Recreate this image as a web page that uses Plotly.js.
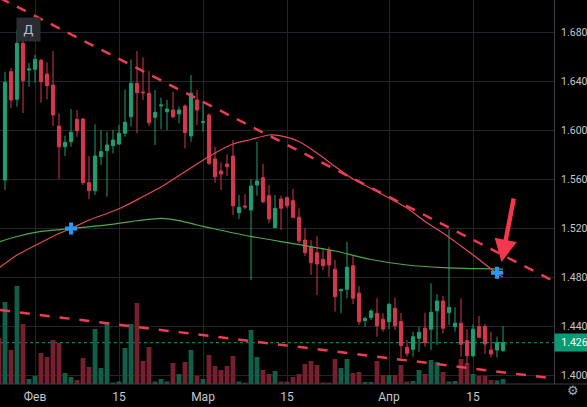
<!DOCTYPE html>
<html><head><meta charset="utf-8">
<script src="https://cdn.plot.ly/plotly-3.0.1.min.js"></script>
<style>html,body{margin:0;padding:0;background:#000;overflow:hidden}#chart{width:587px;height:407px}</style>
</head><body><div id="chart"></div>
<script>
function dayList(start, n){
  const out = []; const t0 = new Date(start + 'T00:00:00Z').getTime();
  for (let i = 0; i < n; i++) out.push(new Date(t0 + i*86400000).toISOString().slice(0,10));
  return out;
}
// daily candles 27 Jan .. 20 Apr 2023
const dates = dayList('2023-01-27', 84);
const open = [1.5593,1.6478,1.6253,1.6710,1.6492,1.6498,1.6571,1.6459,1.6369,1.6034,
1.5865,1.5906,1.6089,1.6092,1.5571,1.5506,1.5784,1.5833,1.5874,1.5887,
1.5975,1.6110,1.6383,1.6312,1.6302,1.6106,1.6198,1.6151,1.6165,1.6133,
1.6198,1.5953,1.6247,1.6063,1.6124,1.5765,1.5667,1.5724,1.5789,1.5326,
1.5381,1.5348,1.5552,1.5612,1.5465,1.5204,1.5438,1.5449,1.5424,1.5289,
1.5103,1.5048,1.4999,1.4945,1.5016,1.4864,1.4689,1.4700,1.4893,1.4668,
1.4444,1.4468,1.4504,1.4455,1.4436,1.4545,1.4437,1.4226,1.4210,1.4300,
1.4382,1.4374,1.4525,1.4605,1.4509,1.4395,1.4423,1.4280,1.4158,1.4395,
1.4395,1.4204,1.4204,1.4199];
const high = [1.6478,1.6508,1.6819,1.6819,1.6549,1.6615,1.6585,1.6555,1.6647,1.6138,
1.5955,1.6173,1.6165,1.6100,1.5789,1.6048,1.6002,1.5988,1.6002,1.6043,
1.6334,1.6579,1.6647,1.6596,1.6484,1.6329,1.6266,1.6247,1.6315,1.6192,
1.6210,1.6451,1.6329,1.6233,1.6138,1.5865,1.5738,1.5803,1.5920,1.5471,
1.5479,1.5599,1.5906,1.5724,1.5552,1.5471,1.5465,1.5457,1.5520,1.5362,
1.5199,1.5103,1.5136,1.5035,1.5048,1.4940,1.4703,1.5089,1.4981,1.4727,
1.4476,1.4537,1.4627,1.4504,1.4586,1.4632,1.4507,1.4286,1.4354,1.4395,
1.4509,1.4749,1.4662,1.4646,1.5190,1.4553,1.4627,1.4374,1.4414,1.4482,
1.4417,1.4354,1.4313,1.4400];
const low = [1.5512,1.6182,1.6192,1.6141,1.6356,1.6388,1.6225,1.6253,1.6034,1.5601,
1.5789,1.5865,1.5947,1.5552,1.5436,1.5471,1.5716,1.5457,1.5811,1.5879,
1.5947,1.6029,1.5975,1.6247,1.6034,1.5879,1.6008,1.6002,1.6097,1.6057,
1.5852,1.5906,1.6043,1.5988,1.5716,1.5571,1.5512,1.5626,1.5307,1.5275,
1.5354,1.4776,1.5465,1.5403,1.5240,1.5201,1.5185,1.5362,1.5281,1.5076,
1.4972,1.4817,1.4654,1.4858,1.4803,1.4517,1.4504,1.4627,1.4580,1.4409,
1.4395,1.4450,1.4313,1.4354,1.4376,1.4368,1.4137,1.4150,1.4150,1.4190,
1.4231,1.4204,1.4245,1.4341,1.4409,1.4354,1.4150,1.4082,1.4145,1.4300,
1.4172,1.4145,1.4145,1.4190];
const close = [1.6391,1.6247,1.6710,1.6405,1.6500,1.6579,1.6396,1.6364,1.6124,1.5865,
1.5901,1.5983,1.5996,1.5571,1.5506,1.5789,1.5825,1.5879,1.5920,1.5975,
1.6065,1.6383,1.6307,1.6306,1.6061,1.6146,1.6206,1.6173,1.6110,1.6165,
1.5980,1.6302,1.6165,1.6070,1.5730,1.5620,1.5642,1.5702,1.5383,1.5370,
1.5373,1.5544,1.5585,1.5416,1.5275,1.5362,1.5362,1.5383,1.5289,1.5097,
1.4999,1.4918,1.4907,1.4893,1.4899,1.4640,1.4700,1.4880,1.4627,1.4436,
1.4463,1.4523,1.4403,1.4376,1.4578,1.4403,1.4241,1.4177,1.4313,1.4349,
1.4264,1.4512,1.4605,1.4382,1.4553,1.4423,1.4251,1.4158,1.4374,1.4308,
1.4253,1.4172,1.4264,1.4264];
// volume; first bar is 26 Jan, partly off the left edge
const volDates = ['2023-01-26'].concat(dates);
const volume = [46000,
82000,34000,98000,60000,5000,8000,31000,27000,44000,41000,
11000,7000,4000,26000,17000,55000,16000,62000,1500,2500,
36000,60000,81000,23000,37000,2500,5000,2500,21000,10000,
22000,34000,8000,5000,29000,18000,14000,18000,28000,2500,
1500,54000,27000,14000,10000,13000,2500,2500,7000,10000,
20000,23000,19000,1500,1500,25000,16000,25000,11000,12000,
2000,2000,23000,9000,9000,9000,19000,2500,3000,14000,
10000,24000,22000,12000,2500,3000,25000,21000,10000,8000,
8000,4000,3500,5000];
const maRedDates = ['2023-01-26','2023-01-29','2023-02-02','2023-02-05','2023-02-07','2023-02-10','2023-02-13','2023-02-16','2023-02-19','2023-02-22','2023-02-25','2023-02-28','2023-03-03','2023-03-06','2023-03-09','2023-03-12','2023-03-14','2023-03-17','2023-03-20','2023-03-23','2023-03-26','2023-03-29','2023-04-01','2023-04-04','2023-04-07','2023-04-10','2023-04-13','2023-04-16','2023-04-19','2023-04-20'];
const maRedValues = [1.4874,1.4980,1.5083,1.5156,1.5197,1.5266,1.5320,1.5381,1.5458,1.5536,1.5630,1.5724,1.5814,1.5887,1.5924,1.5961,1.5954,1.5908,1.5814,1.5704,1.5601,1.5524,1.5446,1.5365,1.5254,1.5160,1.5054,1.4944,1.4829,1.4801];
const maGreenDates = ['2023-01-26','2023-01-29','2023-02-02','2023-02-07','2023-02-13','2023-02-17','2023-02-22','2023-02-25','2023-02-28','2023-03-03','2023-03-09','2023-03-17','2023-03-23','2023-03-29','2023-04-04','2023-04-10','2023-04-16','2023-04-20'];
const maGreenValues = [1.5087,1.5132,1.5173,1.5197,1.5226,1.5254,1.5280,1.5262,1.5226,1.5193,1.5132,1.5066,1.5013,1.4944,1.4899,1.4878,1.4869,1.4865];
const crossDates = ['2023-02-07','2023-04-19'];
const crossPrices = [1.5197, 1.4836];
const trendDates = ['2023-01-26 04:00','2023-04-28 12:00'];
const trendUpperPrices = [1.7080, 1.4766];
const trendLowerPrices = [1.4531, 1.3971];
const arrowTipDate = '2023-04-19 18:00';
const arrowTipPrice = 1.4923;
const xTickVals = ['2023-02-01','2023-02-15','2023-03-01','2023-03-15','2023-04-01','2023-04-15'];
const xTickText = ['Фев','15','Мар','15','Апр','15'];
const yTickVals = [1.40,1.44,1.48,1.52,1.56,1.60,1.64,1.68];

const UP = '#1f9e72', DN = '#d2394f';
const volColors = volDates.map((d, k) => k === 0 ? '#74202e' : (close[k-1] >= open[k-1] ? '#125e48' : '#74202e'));
const lastClose = close[close.length-1];
const GRID = '#22252c', TXT = '#c4c7ce', AX = '#3a3d45';

const traces = [
  {type:'bar', x:volDates, y:volume, marker:{color:volColors, line:{width:0}}, yaxis:'y', hoverinfo:'skip'},
  {type:'candlestick', x:dates, open:open, high:high, low:low, close:close, yaxis:'y2', whiskerwidth:0,
   increasing:{line:{color:UP, width:1}, fillcolor:UP}, decreasing:{line:{color:DN, width:1}, fillcolor:DN}, hoverinfo:'skip'},
  {type:'scatter', mode:'lines', x:maGreenDates, y:maGreenValues, yaxis:'y2', line:{color:'#4fa84a', width:1.2, shape:'spline', smoothing:0.7}, hoverinfo:'skip'},
  {type:'scatter', mode:'lines', x:maRedDates, y:maRedValues, yaxis:'y2', line:{color:'#e5495c', width:1.2, shape:'spline', smoothing:0.7}, hoverinfo:'skip'},
  {type:'scatter', mode:'lines', x:trendDates, y:trendUpperPrices, yaxis:'y2', line:{color:'#ea3c52', width:2.5, dash:'10px,9px'}, hoverinfo:'skip'},
  {type:'scatter', mode:'lines', x:trendDates, y:trendLowerPrices, yaxis:'y2', line:{color:'#ea3c52', width:2.5, dash:'10px,10px'}, hoverinfo:'skip'},
  {type:'scatter', mode:'markers', x:crossDates, y:crossPrices, yaxis:'y2', marker:{symbol:'cross', size:10, color:'#2a97f0', line:{width:0}}, hoverinfo:'skip'}
];

const layout = {
  width:587, height:407, margin:{l:0, r:33, t:0, b:23},
  paper_bgcolor:'#000', plot_bgcolor:'#000', showlegend:false,
  bargap:0.2, boxgap:0.25,
  font:{family:'Roboto, Arial, sans-serif', color:TXT},
  xaxis:{type:'date', range:['2023-01-26 04:00','2023-04-28 12:00'], tickvals:xTickVals, ticktext:xTickText,
         showgrid:true, gridcolor:GRID, gridwidth:1, ticks:'', showline:false, zeroline:false,
         tickfont:{size:12, color:TXT}, ticklabelstandoff:4, rangeslider:{visible:false}, fixedrange:true},
  yaxis:{range:[0,384000], visible:false, fixedrange:true},
  yaxis2:{overlaying:'y', side:'right', range:[1.39266,1.70639], tickvals:yTickVals, tickformat:'.3f',
          showgrid:true, gridcolor:GRID, gridwidth:1, ticks:'', showline:true, linecolor:AX, linewidth:1,
          zeroline:false, tickfont:{size:10.5, color:TXT}, ticklabelstandoff:4, fixedrange:true},
  shapes:[
    {type:'line', xref:'paper', x0:0, x1:1, yref:'y2', y0:lastClose, y1:lastClose, layer:'below',
     line:{color:'#1d9b78', width:1, dash:'dot'}},
    {type:'line', xref:'paper', x0:0, x1:1.1, yref:'paper', y0:0, y1:0, line:{color:AX, width:1}}
  ],
  annotations:[
    {x:arrowTipDate, y:arrowTipPrice, xref:'x', yref:'y2', text:'', showarrow:true, ax:12.5, ay:-65,
     arrowhead:2, arrowwidth:4.5, arrowsize:1, arrowcolor:'#f4374e', standoff:0},
    {x:1, xref:'paper', xanchor:'left', y:lastClose, yref:'y2', yanchor:'middle', text:lastClose.toFixed(3),
     showarrow:false, bgcolor:'#0a9a74', font:{color:'#ffffff', size:10.5}, width:35, align:'center', borderpad:2},
    {x:16/554, xref:'paper', y:1-16.5/384, yref:'paper', text:'Д', showarrow:false, bgcolor:'#2b2c31',
     width:21, height:21, font:{color:'#b9bcc4', size:13}},
    {x:581/554, xref:'paper', y:-16/384, yref:'paper', text:'⚙', showarrow:false, font:{color:'#a3a6ae', size:13}}
  ]
};
Plotly.newPlot('chart', traces, layout, {staticPlot:true, displayModeBar:false});
</script></body></html>
